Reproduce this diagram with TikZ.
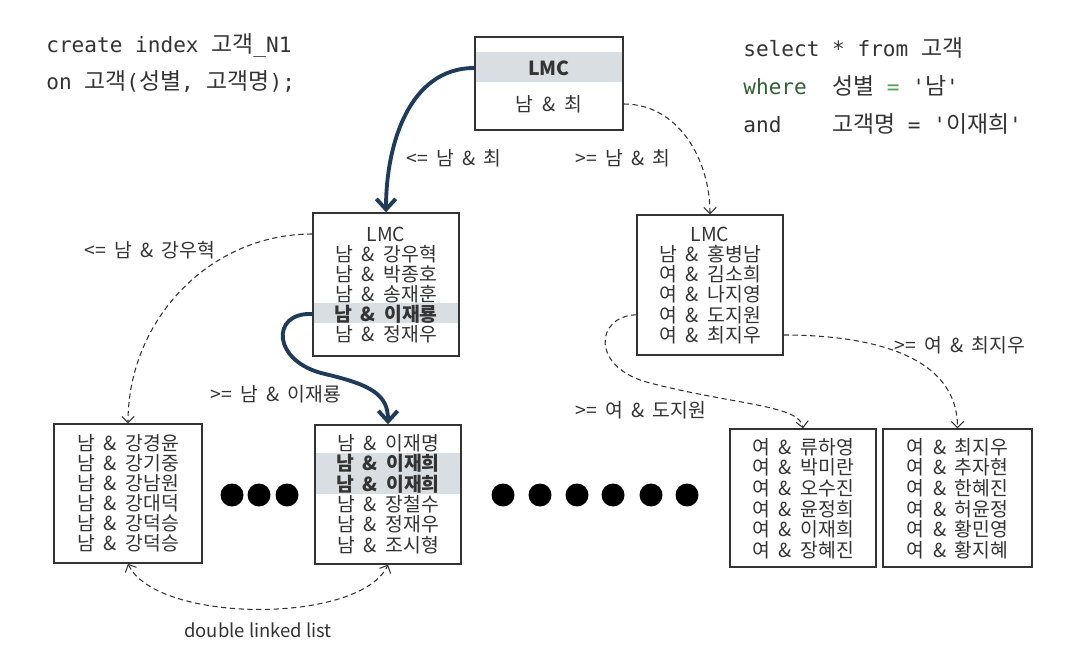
\documentclass[tikz,border=0pt]{standalone}
\usepackage{fontspec}
\setmainfont{Noto Sans CJK KR}
\setmonofont{DejaVu Sans Mono}
\usepackage{xcolor}
\usepackage{tikz}
\usetikzlibrary{arrows.meta}
\definecolor{ink}{HTML}{333333}
\definecolor{navy}{HTML}{1F3B5A}
\definecolor{hl}{HTML}{D8DEE2}
\definecolor{kw}{HTML}{2F602F}
\definecolor{eq}{HTML}{4FA04F}
\newcommand{\hg}[1]{{\rmfamily\fontsize{13}{15}\selectfont #1}}
\newcommand{\rowfont}{\fontsize{11}{13}\selectfont\spaceskip=0.45em\relax}
\newcommand{\lblfont}{\fontsize{11}{13}\selectfont\spaceskip=0.42em\relax}

\begin{document}
\begin{tikzpicture}[x=0.02cm, y=-0.02cm,
  box/.style 2 args={draw=ink, line width=0.8pt, inner sep=0pt, minimum width=#1*0.02cm, minimum height=#2*0.02cm},
  row/.style={text=ink, inner sep=0pt, font=\rowfont},
  lbl/.style={text=ink, inner sep=0pt, font=\lblfont},
  code/.style={anchor=base west, inner sep=0pt, text=ink, font=\ttfamily\fontsize{12}{14}\selectfont},
  walk/.style={draw=navy, line width=2.2pt, -{Straight Barb[length=6pt,width=11pt]}},
  link/.style={draw=ink, line width=0.6pt, dash pattern=on 3pt off 2pt, -{Straight Barb[length=3.5pt,width=7pt]}},
  dot/.style={circle, fill=black, minimum size=23*0.02cm, inner sep=0pt}]
\useasboundingbox (0,0) rectangle (1087,661);

% index and query
\node[code] (idx1) at (46,53) {create index \hg{고객}\_N1};
\node[code] (idx2) at (46,90) {on \hg{고객}(\hg{성별}, \hg{고객명});};
\node[code] (sql1) at (743,57) {select * from \hg{고객}};
\node[code] (sql2) at (743,95) {\textcolor{kw}{where}~~\hg{성별} \textcolor{eq}{=} '\hg{남}'};
\node[code] (sql3) at (743,133) {and~~~~\hg{고객명} = '\hg{이재희}'};

% highlighted rows
\fill[hl] (476,52) rectangle (622,82);
\fill[hl] (314,303) rectangle (458,323);
\fill[hl] (316,453) rectangle (460,494);

% root block
\node[box={148}{93}] (root) at (549,83.5) {};
\node[row] (rk0) at (549,68) {\textbf{LMC}};
\node[row] (rk1) at (549,104) {남 \& 최};

% branch blocks
\node[box={146}{143}] (ml) at (386,284.5) {};
\foreach \t [count=\i from 0] in {LMC, 남 \& 강우혁, 남 \& 박종호, 남 \& 송재훈, \textbf{남 \& 이재룡}, 남 \& 정재우}
  \node[row] (ml\i) at (386,{234+20*\i}) {\t};
\node[box={146}{140}] (mr) at (710,285) {};
\foreach \t [count=\i from 0] in {LMC, 남 \& 홍병남, 여 \& 김소희, 여 \& 나지영, 여 \& 도지원, 여 \& 최지우}
  \node[row] (mr\i) at (710,{234+20.2*\i}) {\t};

% leaf blocks
\node[box={148}{139}] (lf1) at (128,493.5) {};
\foreach \t [count=\i from 0] in {남 \& 강경윤, 남 \& 강기중, 남 \& 강남원, 남 \& 강대덕, 남 \& 강덕승, 남 \& 강덕승}
  \node[row] (lfa\i) at (128,{443+20*\i}) {\t};
\node[box={146}{139}] (lf2) at (388,494.5) {};
\foreach \t [count=\i from 0] in {남 \& 이재명, \textbf{남 \& 이재희}, \textbf{남 \& 이재희}, 남 \& 장철수, 남 \& 정재우, 남 \& 조시형}
  \node[row] (lfb\i) at (388,{443+20.4*\i}) {\t};
\node[box={146}{138}] (lf3) at (803,498) {};
\foreach \t [count=\i from 0] in {여 \& 류하영, 여 \& 박미란, 여 \& 오수진, 여 \& 윤정희, 여 \& 이재희, 여 \& 장혜진}
  \node[row] (lfc\i) at (803,{447+20.6*\i}) {\t};
\node[box={149}{138}] (lf4) at (957.5,498) {};
\foreach \t [count=\i from 0] in {여 \& 최지우, 여 \& 추자현, 여 \& 한혜진, 여 \& 허윤정, 여 \& 황민영, 여 \& 황지혜}
  \node[row] (lfd\i) at (957.5,{447+20.6*\i}) {\t};

% skipped leaves
\foreach \x [count=\i] in {232,259,287}
  \node[dot] (da\i) at (\x,495) {};
\foreach \x [count=\i] in {503,540,577,613,651,687}
  \node[dot] (db\i) at (\x,495) {};

% search path
\draw[walk] (root.west |- rk0) to[out=180,in=90] (ml.north);
\draw[walk] (ml.west |- ml4) .. controls (270,312) and (272,362) .. (325,374)
  .. controls (372,385) and (388,395) .. (lf2.north);

% other branches
\draw[link] (root.east |- rk1) to[out=0,in=90] (mr.north);
\draw[link] (ml.west |- ml0) to[out=180,in=90] (lf1.north);
\draw[link] (mr.west |- mr4) .. controls (595,316) and (590,368) .. (650,383)
  .. controls (735,405) and (800,405) .. (lf3.north);
\draw[link] (mr.east |- mr5) to[out=0,in=90] (lf4.north);
\draw[link, {Straight Barb[length=3.5pt,width=7pt]}-{Straight Barb[length=3.5pt,width=7pt]}]
  (lf1.south) to[out=-65,in=-115,looseness=0.65] (lf2.south);

% labels
\node[lbl] (k1) at (454,158) {<= 남 \& 최};
\node[lbl] (k2) at (623,158) {>= 남 \& 최};
\node[lbl] (k3) at (150,250) {<= 남 \& 강우혁};
\node[lbl] (k4) at (276,394) {>= 남 \& 이재룡};
\node[lbl] (k5) at (641,410) {>= 여 \& 도지원};
\node[lbl] (k6) at (960,345) {>= 여 \& 최지우};
\node[lbl, font=\fontsize{10.5}{12}\selectfont] (k7) at (258,630) {double linked list};
\end{tikzpicture}
\end{document}
